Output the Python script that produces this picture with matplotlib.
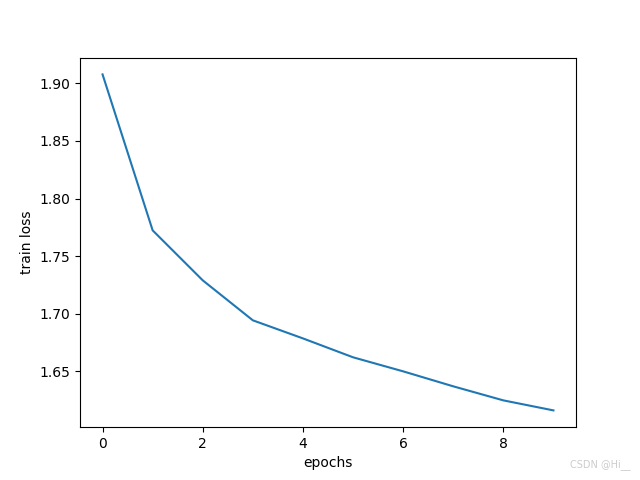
import matplotlib
matplotlib.use("Agg")
import matplotlib.pyplot as plt

epochs = list(range(10))
train_loss = [1.9078, 1.7724, 1.729, 1.6943, 1.6786, 1.6622, 1.650, 1.637, 1.6248, 1.6161]

fig = plt.figure(figsize=(6.4, 4.8), dpi=100)
ax = fig.add_subplot(111)
ax.plot(epochs, train_loss)
ax.set_xlabel("epochs")
ax.set_ylabel("train loss")
fig.text(0.985, 0.02, "CSDN @Hi__", ha="right", va="bottom", fontsize=7, color="#cccccc")
fig.savefig("out.png", dpi=100)
